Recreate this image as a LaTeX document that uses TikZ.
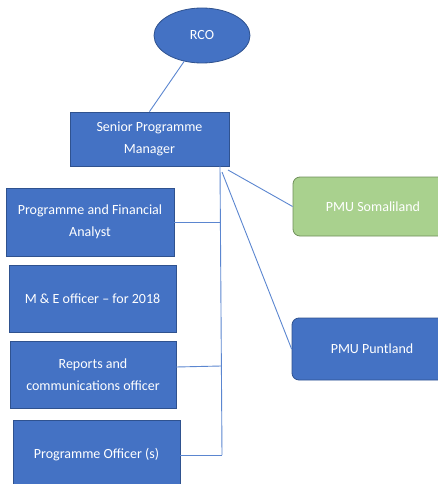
\documentclass[tikz,border=0pt]{standalone}
\usepackage{fontspec}
\setmainfont{Carlito}
\usetikzlibrary{shapes.geometric}
\definecolor{boxblue}{HTML}{4472C4}
\definecolor{boxedge}{HTML}{2F528F}
\definecolor{boxgreen}{HTML}{A9D18E}
\definecolor{greenedge}{HTML}{6F8F5A}
\definecolor{linkblue}{HTML}{5B86D0}
\begin{document}
\begin{tikzpicture}[x=1pt,y=-1pt,
  rolebox/.style={draw=boxedge,fill=boxblue,line width=0.8pt,text=white,align=center,
    font=\fontsize{14}{21.5}\selectfont,inner sep=0pt},
  pmubox/.style={rolebox,rounded corners=7pt},
  link/.style={draw=linkblue,line width=0.9pt}]
\useasboundingbox (0,0) rectangle (438,484);
\clip (0,0) rectangle (438,484);
\node[rolebox,ellipse,minimum width=96pt,minimum height=55pt] (rco) at (202,35.5) {RCO};
\node[rolebox,minimum width=159pt,minimum height=54pt] (spm) at (149.5,139) {Senior Programme\\Manager};
\node[rolebox,minimum width=168pt,minimum height=68pt] (pfa) at (90,222) {Programme and Financial\\Analyst};
\node[rolebox,minimum width=167pt,minimum height=67pt] (me) at (92.5,298.5) {M \& E officer -- for 2018};
\node[rolebox,minimum width=166pt,minimum height=67pt] (rep) at (93,374.5) {Reports and\\communications officer};
\node[rolebox,minimum width=167pt,minimum height=70pt] (po) at (96.5,455) {Programme Officer (s)};
\node[pmubox,fill=boxgreen,draw=greenedge,minimum width=160pt,minimum height=59pt] (som) at (373,206.5) {PMU Somaliland};
\node[pmubox,minimum width=160pt,minimum height=62pt] (pun) at (372,349) {PMU Puntland};
\coordinate (top) at (220,166);
\coordinate (bot) at (222,455);
\coordinate (j1) at (220.3,222);
\coordinate (j2) at (221.3,366);
\coordinate (r2) at (176,367);
\coordinate (s1) at (228,170);
\coordinate (s2) at (222,172);
\draw[link] (rco) -- (spm.north);
\draw[link] (top) -- (bot);
\draw[link] (pfa.east) -- (j1);
\draw[link] (r2) -- (j2);
\draw[link] (po.east) -- (bot);
\draw[link] (s1) -- (som.west);
\draw[link] (s2) -- (pun.west);
\end{tikzpicture}
\end{document}
